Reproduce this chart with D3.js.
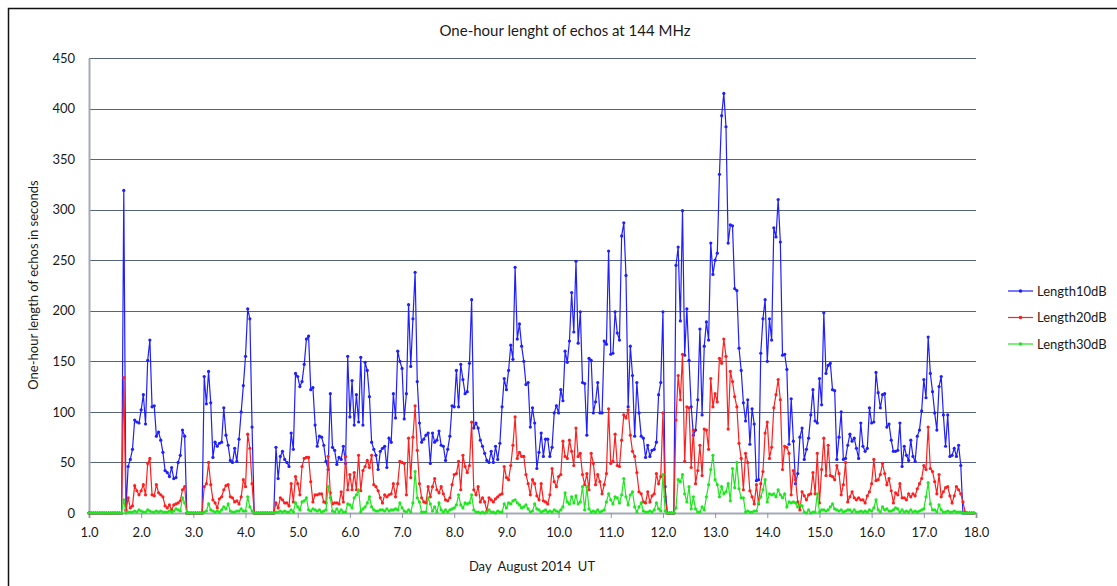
<!DOCTYPE html>
<html>
<head>
<meta charset="utf-8">
<script src="https://cdn.jsdelivr.net/npm/d3@7"></script>
<style>
  body { margin: 0; background: #fff; }
  text { font-family: Lato, "Open Sans", sans-serif; fill: #1a1a1a; }
</style>
</head>
<body>
<svg width="1117" height="586"></svg>
<script>
// hourly values, one row per day (day 1.0 .. 17.9)
const length10dB = [
  0,0,0,0,0,0,0,0,0,0,0,0,0,0,0,0,319,3,46,53,63,92,90,89,
  102,117,88,151,171,105,106,76,80,72,60,42,40,36,45,34,35,50,57,82,76,0,0,0,
  0,0,0,0,0,135,108,140,109,55,70,66,69,70,104,77,67,52,50,64,51,73,100,126,
  155,202,192,85,0,0,0,0,0,0,0,0,0,0,65,34,56,61,53,50,46,79,63,138,
  135,125,130,147,172,175,122,124,87,66,76,75,67,51,43,118,65,62,48,55,53,66,49,155,
  95,131,87,117,90,154,87,149,141,115,70,63,57,43,61,64,66,45,74,70,118,94,160,150,
  143,93,118,206,145,192,238,130,89,70,73,77,79,49,79,70,72,81,67,66,52,63,76,106,
  105,141,105,147,132,118,120,148,211,84,89,84,72,66,59,52,50,61,50,66,53,69,105,133,
  122,141,166,152,243,172,187,165,150,127,129,85,104,89,44,60,79,56,73,73,56,65,99,106,
  99,122,111,160,149,170,218,179,249,168,199,129,128,77,153,151,99,110,129,99,99,170,167,259,
  157,158,199,178,171,274,287,235,105,165,136,76,129,99,76,74,55,67,56,62,63,70,117,129,
  199,26,0,0,0,0,245,263,190,299,156,202,151,105,77,82,112,182,97,165,189,171,267,236,
  250,257,335,393,415,382,267,285,284,222,220,163,141,109,91,112,68,103,88,32,33,158,192,211,
  150,192,171,282,273,310,268,156,157,142,68,113,71,29,39,75,84,53,63,74,97,122,91,89,
  133,107,198,138,146,148,122,121,53,75,100,53,54,67,78,71,74,64,54,89,66,61,64,104,
  89,90,139,119,104,117,118,85,88,72,61,61,62,89,46,66,57,52,72,56,51,76,82,101,
  132,114,174,138,120,99,82,125,135,97,66,97,56,57,64,56,67,47,0,0,0,0,0,0
];

const length20dB = [
  0,0,0,0,0,0,0,0,0,0,0,0,0,0,0,0,134,2,15,5,7,27,22,18,
  22,28,18,49,54,18,17,28,20,18,16,7,5,8,3,8,9,10,12,23,26,0,0,0,
  0,0,0,0,0,26,29,50,28,13,10,5,14,16,23,27,28,16,15,11,12,9,16,33,
  26,78,64,29,0,0,0,0,0,0,0,0,0,0,10,5,15,13,10,10,7,29,11,36,
  29,18,46,54,55,55,31,11,18,18,19,19,11,10,56,20,9,10,10,9,21,11,56,23,
  38,23,40,23,57,22,42,46,52,45,57,28,26,22,15,10,18,16,18,19,29,16,29,51,
  50,49,18,74,35,75,106,62,29,15,11,10,26,16,26,34,23,20,26,19,13,12,15,28,
  38,39,51,23,57,46,40,47,90,23,18,26,11,15,11,2,15,13,11,14,16,18,19,46,
  35,33,47,67,95,54,60,56,56,38,29,18,33,29,17,13,29,12,11,9,18,44,31,26,
  36,38,71,56,54,72,61,47,84,56,59,38,28,39,23,59,49,28,38,31,19,28,39,103,
  49,51,78,47,46,72,97,94,102,77,61,56,40,21,19,11,10,21,11,17,19,39,29,36,
  99,16,0,0,0,0,92,136,112,157,51,105,104,45,82,29,42,67,37,83,82,63,133,105,
  118,110,153,148,172,155,83,140,130,115,105,69,54,23,59,50,22,16,9,28,9,29,41,79,
  90,54,65,104,117,132,112,43,66,65,59,18,42,33,11,3,21,17,13,18,19,40,19,59,
  10,43,74,37,67,37,36,33,47,39,18,28,50,11,16,21,15,13,15,13,13,10,17,21,
  29,53,32,33,38,49,39,28,34,22,10,20,18,29,15,15,13,19,16,19,17,24,29,34,
  47,43,85,44,41,31,19,38,16,21,25,26,17,10,17,26,23,19,11,1,0,0,0,0
];

const length30dB = [
  0,0,0,0,0,0,0,0,0,0,0,0,0,0,0,0,13,0,1,1,1,2,1,3,
  2,1,1,3,2,1,1,2,1,2,1,1,1,2,1,2,4,3,2,15,10,0,0,0,
  0,0,0,0,0,1,2,9,3,2,1,2,1,3,6,4,9,2,1,1,2,2,4,2,
  2,16,6,2,0,0,0,0,0,0,0,0,0,0,1,1,2,1,2,1,1,3,1,10,
  6,3,11,12,15,3,2,4,3,2,3,1,2,3,26,15,2,1,4,1,3,1,1,9,
  8,5,15,18,23,1,4,6,10,16,6,3,2,2,3,3,2,4,2,3,3,4,3,10,
  5,2,1,3,1,10,41,15,11,1,1,1,15,9,2,6,1,10,3,1,3,1,3,4,
  5,8,18,8,5,10,9,10,18,3,1,1,0,1,0,1,3,1,1,0,2,1,1,9,
  5,10,9,12,13,10,8,5,6,8,4,1,2,9,4,3,1,2,3,1,2,1,3,2,
  1,3,6,20,11,9,16,10,17,9,11,26,3,26,4,1,2,1,3,1,2,3,11,19,
  13,9,16,15,10,18,34,16,8,18,21,6,1,6,10,2,1,1,2,1,3,10,4,2,
  38,2,0,0,0,0,5,33,31,38,19,11,26,4,16,4,1,1,6,3,16,28,43,57,
  33,28,16,26,19,21,29,12,44,25,50,24,15,15,1,2,1,1,2,2,10,16,23,33,
  11,19,18,19,16,23,18,15,19,6,11,10,11,10,6,8,7,1,0,3,0,1,1,19,
  1,3,3,2,3,6,9,4,3,2,3,1,2,3,3,1,3,1,1,2,1,2,1,3,
  2,5,13,3,1,6,3,4,2,2,3,5,4,1,3,1,2,1,3,1,2,1,2,3,
  4,16,30,9,3,3,1,8,3,1,1,2,1,1,2,1,1,1,0,0,0,0,0,0
];

const seriesNames = ["Length10dB", "Length20dB", "Length30dB"];
const seriesColors = ["#1f1fff", "#ff1f1f", "#1fe61f"];
const yTicks = [0, 50, 100, 150, 200, 250, 300, 350, 400, 450];
const xTicks = [1, 2, 3, 4, 5, 6, 7, 8, 9, 10, 11, 12, 13, 14, 15, 16, 17, 18];

const svg = d3.select("svg");

// chart frame (only left and top edges are inside the picture)
svg.append("rect")
  .attr("x", 8.5).attr("y", 8.5)
  .attr("width", 1140).attr("height", 620)
  .attr("fill", "none").attr("stroke", "#111").attr("stroke-width", 1.5);

const x = d3.scaleLinear().domain([1, 18]).range([89, 976]);
const y = d3.scaleLinear().domain([0, 450]).range([513, 58]);

// grid
svg.append("g")
  .selectAll("line")
  .data(yTicks.slice(1))
  .enter()
  .append("line")
  .attr("x1", x(1)).attr("x2", x(18))
  .attr("y1", d => Math.round(y(d)) + 0.5)
  .attr("y2", d => Math.round(y(d)) + 0.5)
  .attr("stroke", "#55637e")
  .attr("stroke-width", 1);

// axes
const yAxis = svg.append("g")
  .attr("transform", "translate(" + x(1) + ",0)")
  .call(d3.axisLeft(y).tickValues(yTicks).tickSize(0).tickPadding(14).tickFormat(d3.format("d")));
yAxis.select(".domain").attr("stroke", "#a3aab8").attr("stroke-width", 2);
yAxis.selectAll("text").style("font-size", "13px");

const xAxis = svg.append("g")
  .attr("transform", "translate(0," + y(0) + ")")
  .call(d3.axisBottom(x).tickValues(xTicks).tickSize(5).tickPadding(10).tickFormat(d3.format(".1f")));
xAxis.select(".domain").attr("stroke", "#a3aab8").attr("stroke-width", 2);
xAxis.selectAll(".tick line").attr("stroke", "#8d95a5");
xAxis.selectAll("text").style("font-size", "13px");

// series
const allSeries = [length10dB, length20dB, length30dB];
const line = d3.line()
  .x((d, i) => x(1 + i / 24))
  .y(d => y(d));

allSeries.forEach(function (values, k) {
  const g = svg.append("g");
  g.append("path")
    .datum(values)
    .attr("fill", "none")
    .attr("stroke", seriesColors[k])
    .attr("stroke-width", 1.2)
    .attr("d", line);
  g.selectAll("circle")
    .data(values)
    .enter()
    .append("circle")
    .attr("cx", (d, i) => x(1 + i / 24))
    .attr("cy", d => y(d))
    .attr("r", 1.6)
    .attr("fill", seriesColors[k]);
});

// titles
svg.append("text")
  .attr("x", 565).attr("y", 36)
  .attr("text-anchor", "middle")
  .style("font-size", "15px")
  .text("One-hour lenght of echos at 144 MHz");

svg.append("text")
  .attr("transform", "translate(38,285) rotate(-90)")
  .attr("text-anchor", "middle")
  .style("font-size", "13px")
  .text("One-hour length of echos in seconds");

svg.append("text")
  .attr("x", 532).attr("y", 571)
  .attr("text-anchor", "middle")
  .style("font-size", "13px")
  .style("white-space", "pre")
  .attr("xml:space", "preserve")
  .text("Day  August 2014  UT");

// legend
const legend = svg.append("g")
  .selectAll("g")
  .data(seriesNames)
  .enter()
  .append("g")
  .attr("transform", (d, i) => "translate(1008," + (291 + i * 26.5) + ")");
legend.append("line")
  .attr("x1", 0).attr("x2", 25)
  .attr("stroke", (d, i) => seriesColors[i])
  .attr("stroke-width", 1.2);
legend.append("circle")
  .attr("cx", 12.5).attr("r", 1.8)
  .attr("fill", (d, i) => seriesColors[i]);
legend.append("text")
  .attr("x", 29).attr("y", 4.5)
  .style("font-size", "13px")
  .text(d => d);
</script>
</body>
</html>
